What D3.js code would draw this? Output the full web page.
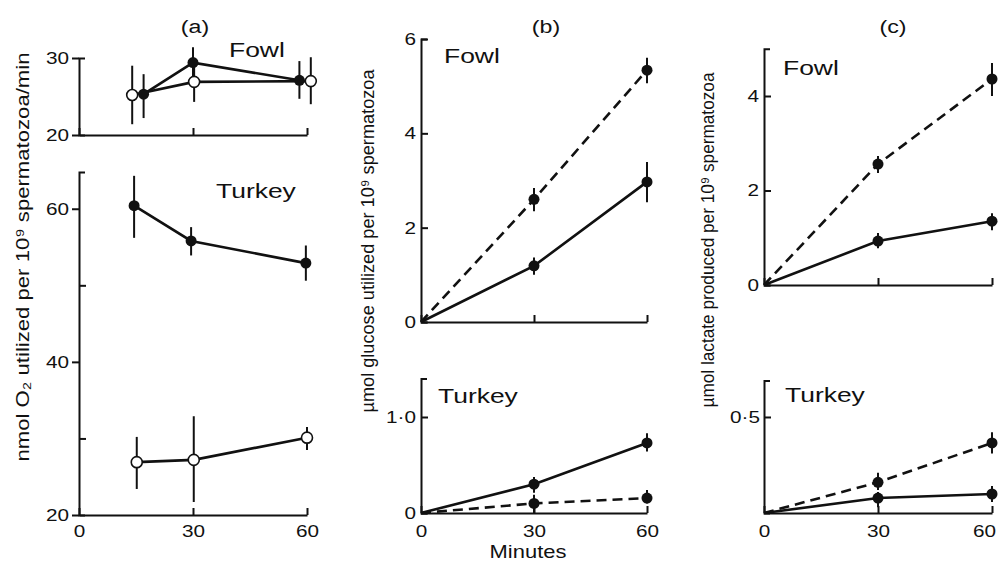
<!DOCTYPE html>
<html><head><meta charset="utf-8">
<script src="https://cdn.jsdelivr.net/npm/d3@7"></script>
<style>
body{margin:0;background:#fff}
svg text{font-family:"Liberation Sans",Arial,Helvetica,sans-serif;fill:#111}
</style>
</head><body>
<svg id="chart" width="1001" height="563"></svg>
<script>
// ---------- data ----------
const minuteTicks = [0, 30, 60];

// (a) O2 uptake, nmol per 10^9 spermatozoa/min
const aFowlFilledX  = [17, 30, 58];
const aFowlFilledY  = [25.3, 29.4, 27.1];
const aFowlFilledLo = [22.2, 27.6, 24.7];
const aFowlFilledHi = [27.9, 31.4, 29.6];
const aFowlOpenX    = [14, 30.3, 61];
const aFowlOpenY    = [25.2, 26.9, 27.0];
const aFowlOpenLo   = [21.4, 24.3, 24.0];
const aFowlOpenHi   = [29.0, 29.2, 30.1];
const aTurkeyFilledX  = [14.5, 29.5, 59.7];
const aTurkeyFilledY  = [60.4, 55.8, 52.9];
const aTurkeyFilledLo = [56.2, 53.9, 50.6];
const aTurkeyFilledHi = [64.3, 57.6, 55.2];
const aTurkeyOpenX    = [15.2, 30.2, 60];
const aTurkeyOpenY    = [26.9, 27.2, 30.1];
const aTurkeyOpenLo   = [23.4, 21.7, 28.5];
const aTurkeyOpenHi   = [30.2, 32.9, 31.5];

// (b) glucose utilized
const bX = [0, 30, 60];
const bFowlSolidY   = [0, 1.19, 2.97];
const bFowlSolidLo  = [null, 1.0, 2.54];
const bFowlSolidHi  = [null, 1.37, 3.39];
const bFowlDashY    = [0, 2.6, 5.34];
const bFowlDashLo   = [null, 2.35, 5.06];
const bFowlDashHi   = [null, 2.84, 5.6];
const bTurkeySolidY  = [0, 0.30, 0.73];
const bTurkeySolidLo = [null, 0.21, 0.64];
const bTurkeySolidHi = [null, 0.375, 0.83];
const bTurkeyDashY   = [0, 0.10, 0.155];
const bTurkeyDashLo  = [null, 0.0, 0.10];
const bTurkeyDashHi  = [null, 0.19, 0.24];

// (c) lactate produced
const cX = [0, 30, 60];
const cFowlSolidY   = [0, 0.93, 1.35];
const cFowlSolidLo  = [null, 0.78, 1.16];
const cFowlSolidHi  = [null, 1.1, 1.52];
const cFowlDashY    = [0, 2.56, 4.36];
const cFowlDashLo   = [null, 2.37, 4.0];
const cFowlDashHi   = [null, 2.73, 4.7];
const cTurkeySolidY  = [0, 0.078, 0.099];
const cTurkeySolidLo = [null, 0.03, 0.057];
const cTurkeySolidHi = [null, 0.11, 0.14];
const cTurkeyDashY   = [0, 0.16, 0.365];
const cTurkeyDashLo  = [null, 0.12, 0.31];
const cTurkeyDashHi  = [null, 0.21, 0.42];

// ---------- drawing ----------
const INK = "#111";
const SX = 1.22; // horizontal stretch of lettering in the reference
const svg = d3.select("#chart");

function stretchTexts(sel, k, lastDx) {
  const n = sel.size();
  sel.each(function (d, i) {
    const t = d3.select(this);
    let x = +t.attr("x") || 0;
    const y = +t.attr("y") || 0;
    if (lastDx && i === n - 1) x += lastDx;
    t.attr("x", 0).attr("y", 0).attr("transform", `translate(${x},${y}) scale(${k},1)`);
  });
}
function label(txt, x, y, size, anchor, k) {
  svg.append("text").text(txt).attr("font-size", size).attr("text-anchor", anchor || "start")
    .attr("transform", `translate(${x},${y}) scale(${k || SX},1)`);
}
function zip(xs, ys, lo, hi) {
  return xs.map((x, i) => ({ x, y: ys[i], lo: lo ? lo[i] : null, hi: hi ? hi[i] : null, i }));
}

function subplot(o) {
  const x = d3.scaleLinear().domain([0, 60]).range(o.xRange);
  const y = d3.scaleLinear().domain(o.yDomain).range(o.yRange);
  const g = svg.append("g");

  // y axis (labelled ticks)
  const ya = d3.axisLeft(y).tickValues(o.yTicks).tickFormat(o.yFormat || d3.format("d"))
    .tickSizeInner(o.yOut ? 7 : -7).tickSizeOuter(-6).tickPadding(o.yPad);
  const yg = g.append("g").attr("transform", `translate(${x(0)},0)`).call(ya);
  yg.attr("font-size", 17).attr("font-family", null);
  yg.selectAll("path,line").attr("stroke", INK).attr("stroke-width", 2);
  stretchTexts(yg.selectAll("text"), SX);
  if (o.yMinor) {
    const ym = d3.axisLeft(y).tickValues(o.yMinor).tickFormat("").tickSizeInner(-7).tickSizeOuter(0);
    const mg = g.append("g").attr("transform", `translate(${x(0)},0)`).call(ym);
    mg.select(".domain").remove();
    mg.selectAll("line").attr("stroke", INK).attr("stroke-width", 2);
  }
  // x axis
  const xa = d3.axisBottom(x).tickValues(minuteTicks)
    .tickFormat(o.xLabels ? d3.format("d") : "")
    .tickSizeInner(-7).tickSizeOuter(0).tickPadding(o.xPad || 10);
  const xg = g.append("g").attr("transform", `translate(0,${y(o.yDomain[0])})`).call(xa);
  xg.attr("font-size", 17).attr("font-family", null);
  xg.selectAll("path,line").attr("stroke", INK).attr("stroke-width", 2);
  stretchTexts(xg.selectAll("text"), SX, o.xLastDx || 0);

  // series
  o.series.forEach(s => {
    const line = d3.line().x(d => x(d.x)).y(d => y(d.y));
    g.append("path").datum(s.data).attr("d", line).attr("fill", "none")
      .attr("stroke", INK).attr("stroke-width", 2.6)
      .attr("stroke-dasharray", s.dashed ? "10,6" : null);
  });
  o.series.forEach(s => {
    g.selectAll(null).data(s.data.filter(d => d.lo != null)).join("line")
      .attr("x1", d => x(d.x)).attr("x2", d => x(d.x))
      .attr("y1", d => y(d.lo)).attr("y2", d => y(d.hi))
      .attr("stroke", INK).attr("stroke-width", 2);
  });
  o.series.forEach(s => {
    g.selectAll(null).data(s.data.filter(d => d.lo != null)).join("circle")
      .attr("cx", d => x(d.x)).attr("cy", d => y(d.y))
      .attr("r", 5.5)
      .attr("fill", s.open ? "#fff" : INK)
      .attr("stroke", INK).attr("stroke-width", s.open ? 1.6 : 0);
  });
}

// ---- panel (a) ----
subplot({
  xRange: [79, 307], yDomain: [20, 30], yRange: [135, 58],
  yTicks: [20, 30], yOut: true, yPad: 3,
  series: [
    { data: zip(aFowlFilledX, aFowlFilledY, aFowlFilledLo, aFowlFilledHi) },
    { data: zip(aFowlOpenX, aFowlOpenY, aFowlOpenLo, aFowlOpenHi), open: true }
  ]
});
subplot({
  xRange: [79, 307], yDomain: [20, 64.8], yRange: [515, 172],
  yTicks: [20, 40, 60], yMinor: [30, 50], yOut: true, yPad: 3, xLabels: true, xPad: 10,
  series: [
    { data: zip(aTurkeyFilledX, aTurkeyFilledY, aTurkeyFilledLo, aTurkeyFilledHi) },
    { data: zip(aTurkeyOpenX, aTurkeyOpenY, aTurkeyOpenLo, aTurkeyOpenHi), open: true }
  ]
});

// ---- panel (b) ----
subplot({
  xRange: [421, 647], yDomain: [0, 6], yRange: [322, 39],
  yTicks: [0, 2, 4, 6], yPad: 5,
  series: [
    { data: zip(bX, bFowlSolidY, bFowlSolidLo, bFowlSolidHi) },
    { data: zip(bX, bFowlDashY, bFowlDashLo, bFowlDashHi), dashed: true }
  ]
});
subplot({
  xRange: [421, 647], yDomain: [0, 1.4], yRange: [513, 378.6],
  yTicks: [0, 1], yFormat: d => d === 0 ? "0" : d3.format(".1f")(d).replace(".", "·"), yPad: 5,
  xLabels: true, xPad: 12,
  series: [
    { data: zip(bX, bTurkeySolidY, bTurkeySolidLo, bTurkeySolidHi) },
    { data: zip(bX, bTurkeyDashY, bTurkeyDashLo, bTurkeyDashHi), dashed: true }
  ]
});

// ---- panel (c) ----
subplot({
  xRange: [764, 992], yDomain: [0, 5], yRange: [285, 48.75],
  yTicks: [0, 2, 4], yPad: 5,
  series: [
    { data: zip(cX, cFowlSolidY, cFowlSolidLo, cFowlSolidHi) },
    { data: zip(cX, cFowlDashY, cFowlDashLo, cFowlDashHi), dashed: true }
  ]
});
subplot({
  xRange: [764, 992], yDomain: [0, 0.69], yRange: [513, 380.5],
  yTicks: [0.5], yFormat: d => d3.format(".1f")(d).replace(".", "·"), yPad: 4,
  xLabels: true, xPad: 12, xLastDx: -8,
  series: [
    { data: zip(cX, cTurkeySolidY, cTurkeySolidLo, cTurkeySolidHi) },
    { data: zip(cX, cTurkeyDashY, cTurkeyDashLo, cTurkeyDashHi), dashed: true }
  ]
});

// ---- titles & labels ----
label("(a)", 195, 33, 19, "middle");
label("(b)", 546, 33, 19, "middle");
label("(c)", 893, 33, 19, "middle");
const SL = 1.26;
label("Fowl", 229, 57, 21, "start", SL);
label("Turkey", 216, 198, 21, "start", SL);
label("Fowl", 444, 63, 21, "start", SL);
label("Turkey", 438, 403, 21, "start", SL);
label("Fowl", 783, 75, 21, "start", SL);
label("Turkey", 785, 402, 21, "start", SL);
label("Minutes", 528, 558, 18, "middle");

function yLabel(txt, x, cy, size, len) {
  const t = svg.append("text").text(txt).attr("font-size", size).attr("text-anchor", "middle")
    .attr("transform", `translate(${x},${cy}) rotate(-90)`);
  if (len) t.attr("textLength", len).attr("lengthAdjust", "spacingAndGlyphs");
}
yLabel("nmol O\u2082 utilized per 10\u2079 spermatozoa/min", 29, 257, 19, 409);
yLabel("\u00b5mol glucose utilized per 10\u2079 spermatozoa", 374, 241, 18.5, 343);
yLabel("\u00b5mol lactate produced per 10\u2079 spermatozoa", 714, 240, 18.5, 335);
</script>
</body></html>
